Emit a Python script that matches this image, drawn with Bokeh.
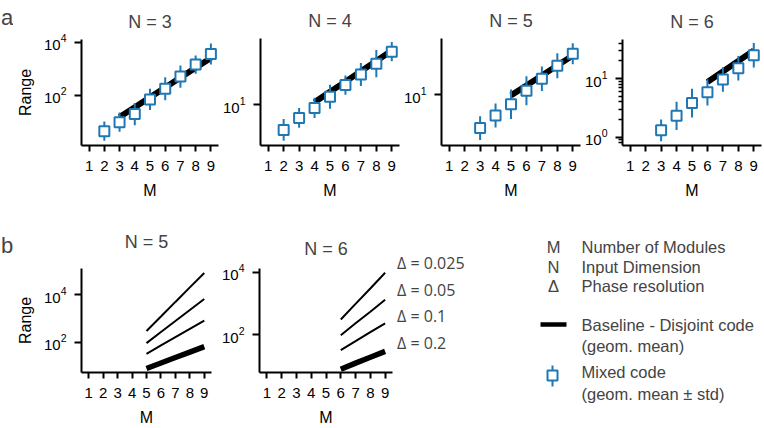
from bokeh.plotting import figure
from bokeh.layouts import row, column
from bokeh.models import FixedTicker, Range1d, Label
from bokeh.embed import file_html
from bokeh.resources import INLINE

BLUE = "#1f77b4"
FONT = "Liberation Sans"
M_TICKS = [1, 2, 3, 4, 5, 6, 7, 8, 9]

# ---------------- Panel a data (geometric mean, std factor, baseline) -------------
m_n3 = [2, 3, 4, 5, 6, 7, 8, 9]
mixed_n3 = [4.6, 10, 20, 71, 178, 510, 1450, 3600]
std_n3 = [2.3, 2.3, 2.6, 2.5, 2.7, 2.6, 2.2, 2.5]
base_m_n3 = [3, 4, 5, 6, 7, 8, 9]
base_n3 = [15.5, 36, 85, 200, 470, 1100, 2570]

m_n4 = [2, 3, 4, 5, 6, 7, 8, 9]
mixed_n4 = [2.1, 4.4, 8.1, 16.2, 33, 63, 123, 257]
std_n4 = [1.95, 1.84, 1.86, 2.09, 1.8, 2.02, 2.32, 1.8]
base_m_n4 = [4, 5, 6, 7, 8, 9]
base_n4 = [11.5, 21.9, 40.7, 77.6, 145, 275]

m_n5 = [3, 4, 5, 6, 7, 8, 9]
mixed_n5 = [1.86, 3.5, 6.2, 12.3, 22.4, 43.6, 79.4]
std_n5 = [1.82, 1.84, 2.11, 2.09, 1.86, 1.88, 1.7]
base_m_n5 = [5, 6, 7, 8, 9]
base_n5 = [9.7, 16, 26.6, 44.2, 73.3]

m_n6 = [3, 4, 5, 6, 7, 8, 9]
mixed_n6 = [1.3, 2.3, 3.8, 5.8, 9.6, 15, 25]
std_n6 = [1.53, 1.74, 1.76, 1.68, 1.62, 1.62, 1.62]
base_m_n6 = [6, 7, 8, 9]
base_n6 = [8.7, 13.2, 20, 30]

# ---------------- Panel b data (baseline range per phase resolution) -------------
delta_labels = ["Δ = 0.025", "Δ = 0.05", "Δ = 0.1", "Δ = 0.2"]
b_m_n5 = [5, 6, 7, 8, 9]
b_n5_d0025 = [300, 1230, 5100, 21000, 85000]
b_n5_d005 = [93, 275, 795, 2340, 6760]
b_n5_d01 = [33, 74, 166, 372, 832]
b_n5_d02 = [7.9, 13.5, 23, 39, 66]

b_m_n6 = [6, 7, 8, 9]
b_n6_d0025 = [309, 977, 3020, 9550]
b_n6_d005 = [98, 234, 550, 1320]
b_n6_d01 = [33, 63, 123, 234]
b_n6_d02 = [8.1, 12.6, 19.5, 30]

glossary_sym = ["M", "N", "Δ"]
glossary_txt = ["Number of Modules", "Input Dimension", "Phase resolution"]


def blank_fig(width, height, x0, x1, y_top, y_bottom):
    """Axis-less figure whose data coordinates equal page pixels."""
    f = figure(width=width, height=height, x_range=Range1d(x0, x1),
               y_range=Range1d(y_bottom, y_top), output_backend="svg",
               toolbar_location=None, min_border=0, frame_align=False,
               x_axis_location=None, y_axis_location=None)
    f.outline_line_color = None
    f.xgrid.visible = False
    f.ygrid.visible = False
    return f


def make_fig(width, height, left, right, top, bottom, ylog, title, standoff,
             yticks, minor=None, ylabel=None):
    p = figure(width=width, height=height,
               x_range=Range1d(0.5, 9.5),
               y_range=Range1d(10 ** ylog[0], 10 ** ylog[1]),
               y_axis_type="log", output_backend="svg", toolbar_location=None,
               min_border_left=left, min_border_right=right,
               min_border_top=top, min_border_bottom=bottom, title=title,
               frame_align=False)
    p.outline_line_color = None
    p.xgrid.visible = False
    p.ygrid.visible = False
    p.title.align = "center"
    p.title.vertical_align = "middle"
    p.title.text_font = FONT
    p.title.text_font_size = "18px"
    p.title.text_font_style = "normal"
    p.title.standoff = standoff
    p.xaxis.ticker = FixedTicker(ticks=M_TICKS)
    p.yaxis.ticker = FixedTicker(ticks=yticks, minor_ticks=minor or [])
    for ax in p.axis:
        ax.axis_line_width = 2
        ax.axis_line_color = "black"
        ax.major_tick_line_width = 2
        ax.major_tick_line_color = "black"
        ax.minor_tick_line_width = 1.5
        ax.minor_tick_line_color = "black"
        ax.major_tick_in = 0
        ax.minor_tick_in = 0
        ax.major_label_text_font = FONT
        ax.major_label_text_font_size = "15px"
        ax.major_label_text_color = "black"
        ax.axis_label_text_font = FONT
        ax.axis_label_text_font_size = "16px"
        ax.axis_label_text_font_style = "normal"
        ax.axis_label_text_color = "black"
    p.xaxis.major_tick_out = 6
    p.yaxis.major_tick_out = 7
    p.yaxis.minor_tick_out = 4
    p.xaxis.axis_label = "M"
    p.xaxis.major_label_standoff = 9
    p.xaxis.axis_label_standoff = 8
    p.yaxis.major_label_standoff = 8
    if ylabel:
        p.yaxis.axis_label = ylabel
        p.yaxis.axis_label_standoff = 7
    return p


def draw_mixed(p, m, mean, std, bm, base):
    p.line(bm, base, line_color="black", line_width=6)
    lo = [a / s for a, s in zip(mean, std)]
    hi = [a * s for a, s in zip(mean, std)]
    p.segment(x0=m, y0=lo, x1=m, y1=hi, line_color=BLUE, line_width=2)
    p.scatter(m, mean, marker="square", size=10, fill_color="white",
              line_color=BLUE, line_width=2)


# ---------------- Row a ----------------
strip_a = blank_fig(13, 208, 0, 13, 0, 208)
strip_a.add_layout(Label(x=0.5, y=17, text="a", text_font=FONT,
                         text_font_size="22px", text_baseline="alphabetic"))

a1 = make_fig(206, 208, 65, 1, 39, 63, (0.124, 4.1), "N = 3", 14,
              [1e2, 1e4], ylabel="Range")
draw_mixed(a1, m_n3, mixed_n3, std_n3, base_m_n3, base_n3)

a2 = make_fig(181, 208, 41, 1, 38, 63, (-0.093, 2.76), "N = 4", 14, [10])
draw_mixed(a2, m_n4, mixed_n4, std_n4, base_m_n4, base_n4)

a3 = make_fig(181, 208, 41, 1, 38, 63, (-0.114, 2.237), "N = 5", 14, [10])
draw_mixed(a3, m_n5, mixed_n5, std_n5, base_m_n5, base_n5)

minor6 = [0.8, 0.9, 2, 3, 4, 5, 6, 7, 8, 9, 20, 30, 40]
a4 = make_fig(183, 208, 41, 3, 39, 63, (-0.145, 1.667), "N = 6", 14,
              [1, 10], minor=minor6)
draw_mixed(a4, m_n6, mixed_n6, std_n6, base_m_n6, base_n6)

# ---------------- Row b ----------------
strip_b = blank_fig(13, 220, 0, 13, 208, 428)
strip_b.add_layout(Label(x=0.5, y=245, text="b", text_font=FONT,
                         text_font_size="22px", text_baseline="alphabetic"))

b1 = make_fig(202, 220, 65, 4, 60, 54, (0.729, 5.118), "N = 5", 31,
              [1e2, 1e4], ylabel="Range")
for ys, w in zip([b_n5_d0025, b_n5_d005, b_n5_d01, b_n5_d02], [2, 2, 2, 5.5]):
    b1.line(b_m_n5, ys, line_color="black", line_width=w)

b2 = make_fig(178, 220, 44, 1, 60, 54, (0.803, 4.116), "N = 6", 18, [1e2, 1e4])
for ys, w in zip([b_n6_d0025, b_n6_d005, b_n6_d01, b_n6_d02], [2, 2, 2, 5.5]):
    b2.line(b_m_n6, ys, line_color="black", line_width=w)

# ---------------- Legend / glossary area (pixel coordinates) ----------------
leg = blank_fig(371, 220, 393, 764, 208, 428)

for i, t in enumerate(delta_labels):
    leg.add_layout(Label(x=396.5, y=262.3 + 26.8 * i, text=t, text_font="Open Sans",
                         text_font_size="16px", text_baseline="middle",
                         text_align="left"))

for i, (s, t) in enumerate(zip(glossary_sym, glossary_txt)):
    yy = 246.7 + 19.5 * i
    leg.add_layout(Label(x=553, y=yy, text=s, text_font=FONT, text_font_size="16.5px",
                         text_baseline="middle", text_align="center"))
    leg.add_layout(Label(x=581, y=yy, text=t, text_font=FONT, text_font_size="16.5px",
                         text_baseline="middle", text_align="left"))

leg.line([540, 566], [324, 324], line_color="black", line_width=4.5)
leg.segment(x0=[552], y0=[365], x1=[552], y1=[386], line_color=BLUE, line_width=2)
leg.scatter([552], [375], marker="square", size=10, fill_color="white",
            line_color=BLUE, line_width=2)
for yy, t in [(324, "Baseline - Disjoint code"), (345, "(geom. mean)"),
              (371.7, "Mixed code"), (393.3, "(geom. mean ± std)")]:
    leg.add_layout(Label(x=581, y=yy, text=t, text_font=FONT, text_font_size="16.5px",
                         text_baseline="middle", text_align="left"))

layout = column(row(strip_a, a1, a2, a3, a4), row(strip_b, b1, b2, leg))
open("out.html", "w").write(file_html(layout, INLINE))
